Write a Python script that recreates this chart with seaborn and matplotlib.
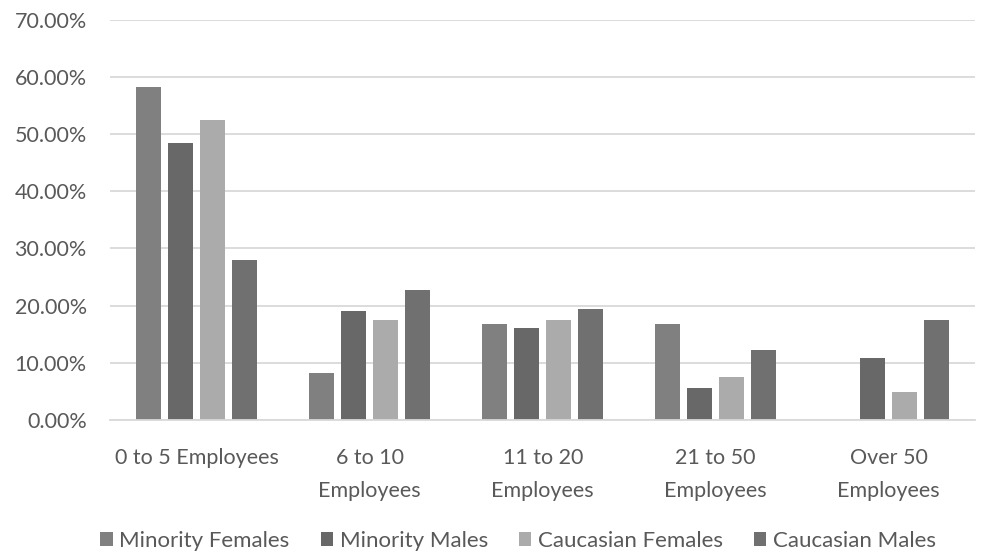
import pandas as pd
import seaborn as sns
import matplotlib.pyplot as plt
from matplotlib.ticker import PercentFormatter

# Chart values
categories = ['0 to 5 Employees', '6 to 10\nEmployees', '11 to 20\nEmployees',
              '21 to 50\nEmployees', 'Over 50\nEmployees']
series = ['Minority Females', 'Minority Males', 'Caucasian Females', 'Caucasian Males']
minority_females = [58.2, 8.2, 16.8, 16.8, 0.0]
minority_males = [48.5, 19.0, 16.0, 5.5, 10.8]
caucasian_females = [52.5, 17.5, 17.5, 7.5, 4.8]
caucasian_males = [27.9, 22.7, 19.4, 12.3, 17.5]

colors = ['#808080', '#686868', '#ababab', '#707070']

# Long-form table for seaborn
rows = []
for name, vals in zip(series, [minority_females, minority_males, caucasian_females, caucasian_males]):
    for cat, v in zip(categories, vals):
        rows.append({'Size': cat, 'Group': name, 'Share': v})
df = pd.DataFrame(rows)

sns.set_style('white')
plt.rcParams['font.family'] = ['Lato', 'DejaVu Sans']
text_color = '#595959'

fig = plt.figure(figsize=(9.85, 5.56), dpi=100)
ax = fig.add_axes([0.112, 0.245, 0.878, 0.719])

sns.barplot(data=df, x='Size', y='Share', hue='Group', hue_order=series,
            order=categories, palette=colors, width=0.74, gap=0.22,
            edgecolor='none', ax=ax, legend=True)

ax.set_ylim(0, 70)
ax.set_yticks(range(0, 71, 10))
ax.yaxis.set_major_formatter(PercentFormatter(decimals=2))
ax.grid(axis='y', color='#d9d9d9', linewidth=1.3)
ax.set_axisbelow(True)
for s in ['left', 'right', 'top']:
    ax.spines[s].set_visible(False)
ax.spines['bottom'].set_color('#d9d9d9')
ax.spines['bottom'].set_linewidth(1.3)
ax.set_xlabel('')
ax.set_ylabel('')
ax.tick_params(axis='both', length=0, labelsize=15.5, colors=text_color)
ax.tick_params(axis='x', pad=20)
ax.tick_params(axis='y', pad=17)
for lbl in ax.get_xticklabels():
    lbl.set_linespacing(1.85)
    lbl.set_va('top')

ax.legend(loc='center', bbox_to_anchor=(0.526, 0.027), bbox_transform=fig.transFigure,
          ncol=4, frameon=False, fontsize=16, labelcolor=text_color,
          handlelength=0.55, handleheight=0.55, handletextpad=0.3, columnspacing=1.4)

fig.savefig('out.png', dpi=100)
